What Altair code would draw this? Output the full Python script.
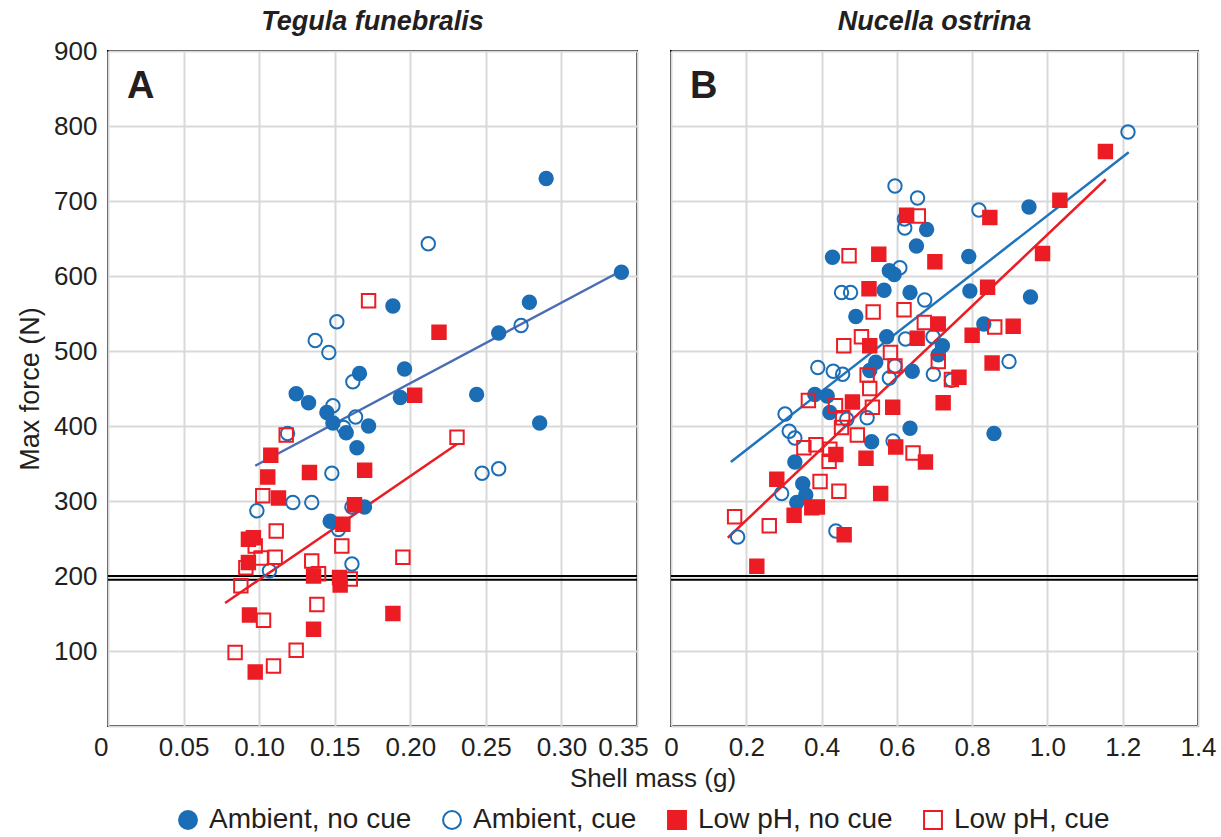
import altair as alt
import pandas as pd

FONT = "Liberation Sans, Arial, sans-serif"
GROUPS = ["Ambient, no cue", "Ambient, cue", "Low pH, no cue", "Low pH, cue"]
BLUE = "#1b6db5"
RED = "#ec1c24"

# ---- Panel A: Tegula funebralis ----
a_amb_nocue_x = [0.2899, 0.3397, 0.2788, 0.2585, 0.1885, 0.1962, 0.1934, 0.2439, 0.2856, 0.1664,
                 0.1245, 0.1327, 0.1448, 0.1488, 0.1576, 0.1724, 0.1647, 0.1470, 0.1697]
a_amb_nocue_y = [730, 605, 565, 524, 560, 476, 438, 442, 404, 470,
                 443, 431, 418, 404, 391, 400, 371, 273, 292]
a_amb_cue_x = [0.2119, 0.1514, 0.1371, 0.1461, 0.1620, 0.2733, 0.1488, 0.1638, 0.1559, 0.1188,
               0.1481, 0.2475, 0.2585, 0.1223, 0.1348, 0.0985, 0.1614, 0.1525, 0.1614, 0.1068]
a_amb_cue_y = [643, 539, 514, 498, 459, 534, 427, 412, 398, 390,
               337, 337, 343, 298, 298, 287, 292, 262, 216, 207]
a_low_nocue_x = [0.2190, 0.2029, 0.1077, 0.1057, 0.1333, 0.1698, 0.1128, 0.1631, 0.1554, 0.0929,
                 0.0962, 0.0929, 0.1360, 0.1532, 0.1536, 0.0936, 0.1360, 0.1885, 0.0974]
a_low_nocue_y = [525, 441, 361, 332, 338, 341, 304, 295, 269, 249,
                 251, 218, 200, 198, 188, 148, 129, 150, 72]
a_low_cue_x = [0.1724, 0.2309, 0.1179, 0.1024, 0.1113, 0.0974, 0.1013, 0.1106, 0.0912, 0.0879,
               0.1348, 0.1393, 0.1547, 0.1603, 0.1951, 0.1382, 0.1029, 0.1245, 0.0841, 0.1095]
a_low_cue_y = [567, 385, 388, 307, 260, 240, 224, 225, 211, 187,
               220, 203, 240, 196, 225, 162, 141, 101, 98, 80]

# ---- Panel B: Nucella ostrina ----
b_amb_nocue_x = [0.429, 0.679, 0.652, 0.580, 0.593, 0.566, 0.635, 0.491, 0.573, 0.544,
                 0.528, 0.641, 0.382, 0.415, 0.951, 0.791, 0.794, 0.955, 0.831, 0.721,
                 0.710, 0.635, 0.858, 0.422, 0.533, 0.329, 0.350, 0.358, 0.334]
b_amb_nocue_y = [625, 662, 640, 607, 602, 581, 578, 546, 519, 485,
                 474, 473, 442, 440, 692, 626, 580, 572, 536, 507,
                 495, 397, 390, 418, 379, 352, 323, 308, 298]
b_amb_cue_x = [0.595, 0.655, 0.620, 0.621, 0.608, 0.453, 0.477, 0.674, 0.623, 0.696,
               0.390, 0.431, 0.456, 0.595, 0.580, 0.697, 0.303, 1.214, 0.818, 0.898,
               0.745, 0.314, 0.329, 0.467, 0.521, 0.590, 0.294, 0.438, 0.177]
b_amb_cue_y = [720, 704, 676, 664, 611, 578, 578, 568, 516, 519,
               478, 473, 469, 480, 464, 469, 416, 792, 688, 486,
               461, 393, 384, 409, 411, 380, 310, 260, 252]
b_low_nocue_x = [0.626, 0.552, 0.701, 0.526, 0.528, 0.654, 0.482, 1.154, 1.033, 0.847,
                 0.987, 0.841, 0.710, 0.909, 0.800, 0.853, 0.765, 0.723, 0.589, 0.438,
                 0.518, 0.597, 0.676, 0.281, 0.557, 0.327, 0.374, 0.389, 0.460, 0.228]
b_low_nocue_y = [681, 629, 619, 583, 507, 517, 432, 766, 701, 678,
                 630, 585, 536, 533, 521, 484, 465, 431, 425, 362,
                 357, 372, 352, 329, 310, 281, 291, 292, 255, 213]
b_low_cue_x = [0.657, 0.473, 0.537, 0.619, 0.673, 0.506, 0.459, 0.583, 0.595, 0.521,
               0.528, 0.365, 0.437, 0.860, 0.710, 0.745, 0.535, 0.456, 0.453, 0.495,
               0.353, 0.385, 0.422, 0.420, 0.643, 0.396, 0.446, 0.169, 0.261]
b_low_cue_y = [680, 627, 552, 555, 538, 519, 507, 498, 480, 468,
               450, 434, 427, 532, 486, 462, 425, 411, 398, 388,
               371, 375, 369, 353, 364, 326, 313, 279, 267]

# regression lines (end points)
a_fit_ambient_x = [0.0974, 0.3397]
a_fit_ambient_y = [347, 607]
a_fit_low_x = [0.0775, 0.231]
a_fit_low_y = [164, 376]
b_fit_ambient_x = [0.159, 1.216]
b_fit_ambient_y = [352, 765]
b_fit_low_x = [0.151, 1.155]
b_fit_low_y = [251, 729]

threshold_y = [200, 195]


def rows(panel, group, xs, ys):
    return [dict(panel=panel, group=group, x=x, y=y) for x, y in zip(xs, ys)]


pts = pd.DataFrame(
    rows("A", GROUPS[0], a_amb_nocue_x, a_amb_nocue_y)
    + rows("A", GROUPS[1], a_amb_cue_x, a_amb_cue_y)
    + rows("A", GROUPS[2], a_low_nocue_x, a_low_nocue_y)
    + rows("A", GROUPS[3], a_low_cue_x, a_low_cue_y)
    + rows("B", GROUPS[0], b_amb_nocue_x, b_amb_nocue_y)
    + rows("B", GROUPS[1], b_amb_cue_x, b_amb_cue_y)
    + rows("B", GROUPS[2], b_low_nocue_x, b_low_nocue_y)
    + rows("B", GROUPS[3], b_low_cue_x, b_low_cue_y)
)

fill_scale = alt.Scale(domain=GROUPS, range=[BLUE, "transparent", RED, "transparent"])
stroke_scale = alt.Scale(domain=GROUPS, range=[BLUE, BLUE, RED, RED])
shape_scale = alt.Scale(domain=GROUPS, range=["circle", "circle", "square", "square"])

W_A, W_B, H = 529, 527, 675
TXT = "#231f20"


def panel(name, letter, title, xmax, xstep, decimals, fit_amb, fit_low, amb_line_color, first):
    n = int(round(xmax / xstep))
    xvals = [round(i * xstep, 3) for i in range(n + 1)]
    xscale = alt.Scale(domain=[0, xmax], nice=False, zero=True)
    yscale = alt.Scale(domain=[0, 900], nice=False)
    if first:
        label_align = {"condition": {"test": "datum.value === 0", "value": "right"}, "value": "center"}
        label_offset = {"condition": {"test": "datum.value > 0.34", "value": -14}, "value": 0}
    else:
        label_align = "center"
        label_offset = 0
    xaxis = alt.Axis(values=xvals, labelExpr=f"datum.value == 0 ? '0' : format(datum.value, '.{decimals}f')",
                     title=None, grid=True, ticks=False, domain=False, labelFontSize=26,
                     labelPadding=8, labelColor=TXT, labelFont=FONT, labelAlign=label_align,
                     labelOffset=label_offset, labelFlush=False)
    if first:
        yaxis = alt.Axis(values=list(range(0, 1000, 100)), labelExpr="datum.value == 0 ? '' : datum.label",
                         title="Max force (N)", titleFontSize=27, titleFontWeight="normal", titleFont=FONT,
                         titleColor=TXT, titlePadding=9, grid=True, ticks=False, domain=False,
                         labelFontSize=26, labelPadding=11, labelColor=TXT, labelFont=FONT)
    else:
        yaxis = alt.Axis(values=list(range(0, 1000, 100)), labels=False, title=None, grid=True,
                         ticks=False, domain=False, minExtent=0)

    X = alt.X("x:Q", scale=xscale, axis=xaxis)
    Y = alt.Y("y:Q", scale=yscale, axis=yaxis)

    rules = alt.Chart(pd.DataFrame({"y": threshold_y})).mark_rule(color="black", strokeWidth=2).encode(y=Y)

    amb = pd.DataFrame({"x": fit_amb[0], "y": fit_amb[1]})
    low = pd.DataFrame({"x": fit_low[0], "y": fit_low[1]})
    line_amb = alt.Chart(amb).mark_line(color=amb_line_color, strokeWidth=2.5).encode(x=X, y=Y)
    line_low = alt.Chart(low).mark_line(color=RED, strokeWidth=2.5).encode(x=X, y=Y)

    points = alt.Chart(pts[pts.panel == name]).mark_point(filled=True, size=180, strokeWidth=2, opacity=1).encode(
        x=X, y=Y,
        fill=alt.Fill("group:N", scale=fill_scale, title=None),
        stroke=alt.Stroke("group:N", scale=stroke_scale, title=None),
        shape=alt.Shape("group:N", scale=shape_scale, title=None),
    )

    letter_mark = alt.Chart(pd.DataFrame({"t": [letter]})).mark_text(
        fontSize=38, fontWeight="bold", align="left", baseline="alphabetic", font=FONT, color=TXT
    ).encode(text="t:N", x=alt.value(19), y=alt.value(47))

    title_mark = alt.Chart(pd.DataFrame({"t": [title]})).mark_text(
        fontSize=27, fontWeight="bold", fontStyle="italic", align="center", baseline="middle",
        font=FONT, color=TXT
    ).encode(text="t:N", x=alt.value((W_A if first else W_B) / 2), y=alt.value(-29))

    layers = [rules, line_amb, line_low, points, letter_mark, title_mark]
    if first:
        xt = alt.Chart(pd.DataFrame({"t": ["Shell mass (g)"]})).mark_text(
            fontSize=26, font=FONT, align="center", baseline="middle", color=TXT
        ).encode(text="t:N", x=alt.value(545), y=alt.value(728))
        layers.append(xt)

    return alt.layer(*layers).properties(width=W_A if first else W_B, height=H)


pa = panel("A", "A", "Tegula funebralis", 0.35, 0.05, 2, (a_fit_ambient_x, a_fit_ambient_y),
           (a_fit_low_x, a_fit_low_y), "#4a6cb5", True)
pb = panel("B", "B", "Nucella ostrina", 1.4, 0.2, 1, (b_fit_ambient_x, b_fit_ambient_y),
           (b_fit_low_x, b_fit_low_y), "#1f74bd", False)

chart = alt.hconcat(pa, pb, spacing=34, bounds="flush").properties(
    padding={"left": 15, "top": 7, "right": 2, "bottom": 0}
).configure_view(
    stroke="black", strokeWidth=2
).configure_axis(
    gridColor="#d9d9d9", gridWidth=2
).configure_legend(
    orient="none", legendX=66, legendY=755, direction="horizontal", columns=4,
    labelFontSize=28, labelFont=FONT, labelColor=TXT, symbolSize=320, symbolStrokeWidth=2,
    columnPadding=26, labelOffset=7, labelLimit=400
)

chart.save("out.html", embed_options={"renderer": "svg", "actions": False})
